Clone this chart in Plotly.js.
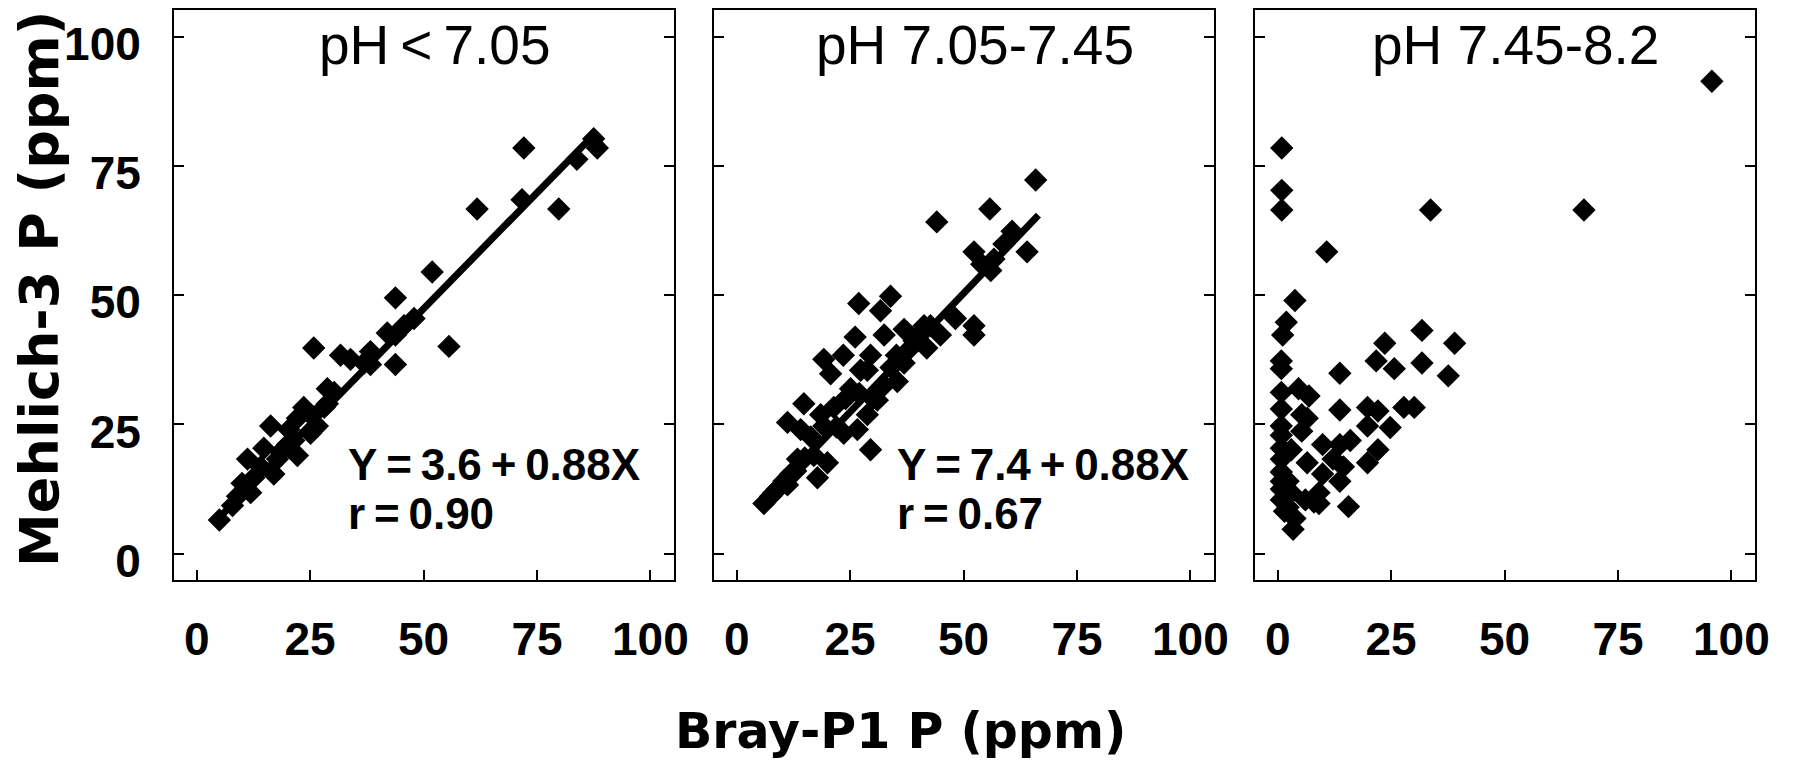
<!DOCTYPE html>
<html>
<head>
<meta charset="utf-8">
<script src="https://cdn.plot.ly/plotly-3.0.1.min.js"></script>
<style>html,body{margin:0;padding:0;background:#fff;}</style>
</head>
<body>
<div id="chart" style="width:1793px;height:768px;"></div>
<script>
// ---- data ----
const panelTitles = ["pH\u2009<\u20097.05", "pH 7.05-7.45", "pH 7.45-8.2"];
const xTickVals = [0, 25, 50, 75, 100];
const yTickVals = [0, 25, 50, 75, 100];
const xAxisTitle = "Bray-P1 P (ppm)";
const yAxisTitle = "Mehlich-3 P (ppm)";

const ph1X = [5,7.9,9,10,11.2,11.9,12.6,14.1,14.8,16.3,17,17.8,18.5,20,20.3,21.4,22.2,22.2,23.6,25.1,25.1,25.8,26.6,28.1,28.8,28.8,30.3,31.7,33.9,36.9,38.3,38.3,42,43.8,43.8,43.8,45.7,47.9,51.9,55.6,61.8,71.7,72.1,79.8,83.8,88.3,87.5];
const ph1Y = [6.5,9.3,11.1,13.6,18.3,11.8,14.7,16.8,20.4,24.7,15.4,18.3,19.7,21.1,24,21.9,19,26.2,28.3,26.9,23.3,39.8,24.7,28.3,31.9,29,31.2,38.4,37.6,36.9,39.1,36.6,42.7,49.5,36.6,42.3,44.1,45.5,54.5,40.1,66.7,68.5,78.5,66.7,76.3,78.5,80.3];

const ph2X = [6,7.5,8.2,9,10.4,11.2,11.9,13.4,11.2,14.1,14.8,16.3,17,17.8,18.5,19.2,20,19.2,20.7,21.4,23.6,23.5,25.1,26.1,26.6,26.9,27.3,28.8,28.8,29.5,29.5,31,31.7,32.5,32.5,33.9,35.2,35.4,36.9,36.9,38.3,39.1,41.3,41.9,42.7,44.1,44.9,48.2,52.3,52.3,52.3,54,55.8,56,56.7,58.9,60.7,64,65.9,13,15,22,24,27,30,34,40];
const ph2Y = [9.7,11.1,11.8,12.5,14,13.3,15.4,18.3,25.4,24,29,22.6,19,14.7,26.9,24.7,17.6,37.6,34.8,28.3,23.3,38.4,31.9,41.9,24,48.4,35.5,26.9,35.5,38.4,20.1,29.7,47,42.3,32.6,49.8,38.4,33.3,36.9,43.4,39.8,41.2,44.1,39.8,44.1,64.2,42.3,45.5,44.1,42.3,58.4,56,66.7,54.8,57,59.9,62.4,58.4,72.3,16,18.5,24.5,30,31,30,36,42];

const ph3X = [95.7,67.5,33.7,0.9,0.9,0.9,10.8,3.8,1.9,1.1,0.8,0.8,31.8,39,23.6,21.7,25.7,31.8,37.6,13.7,13.7,27.8,30.1,19.8,22.1,24.8,19.8,22.1,19.8,16,13.7,9.9,12.2,14.5,13.7,9.9,6.5,15.6,9.1,6.1,3.8,3.4,1.5,0.8,4.6,6.9,0.8,5.3,6.5,0.8,0.8,5.3,0.8,0.8,3,0.8,0.8,0.8,0.8,2.3,2.3,3,8,9.1];
const ph3Y = [91.4,66.5,66.5,78.5,70.3,66.5,58.4,49,44.8,42.3,37.3,35.8,43.2,40.7,40.7,37.3,35.8,36.9,34.4,34.9,27.8,28.3,28.3,28.3,27.6,24.4,24.7,20.1,17.6,21.9,21.1,21.1,18.3,16.8,14,15.4,17.6,9.1,9.7,10.4,6.8,4.7,8.2,31.2,31.9,30.5,28,26.9,26.2,24.7,22.9,23.7,20.4,18.3,20.1,15.8,14,12.5,10.4,9,14,11.8,10,11.8];

// fitted lines (end points)
const fit1X = [5, 88];
const fit1Y = [7, 81.5];
const fit2X = [6, 66.5];
const fit2Y = [10, 65.5];

const eqText = ["Y\u2009=\u20093.6\u2009+\u20090.88X", "Y\u2009=\u20097.4\u2009+\u20090.88X"];
const rText = ["r\u2009=\u20090.90", "r\u2009=\u20090.67"];
const eqPosX = [33, 35];

// ---- build figure ----
const mk = {symbol: 'diamond', size: 18, color: '#000', line: {width: 0}};
const traces = [
  {x: ph1X, y: ph1Y, xaxis: 'x', yaxis: 'y', mode: 'markers', type: 'scatter', marker: mk},
  {x: ph2X, y: ph2Y, xaxis: 'x2', yaxis: 'y2', mode: 'markers', type: 'scatter', marker: mk},
  {x: ph3X, y: ph3Y, xaxis: 'x3', yaxis: 'y3', mode: 'markers', type: 'scatter', marker: mk},
  {x: fit1X, y: fit1Y, xaxis: 'x', yaxis: 'y', mode: 'lines', type: 'scatter', line: {color: '#000', width: 7}},
  {x: fit2X, y: fit2Y, xaxis: 'x2', yaxis: 'y2', mode: 'lines', type: 'scatter', line: {color: '#000', width: 7}}
];

const tickFont = {family: 'Liberation Sans, Arial, sans-serif', size: 46, weight: 'bold', color: '#000'};
const xRange = [-5, 105.2];
const yRange = [-5.1, 105.2];
const domains = [[0, 0.31626], [0.34156, 0.65781], [0.68374, 1]];

function xax(i) {
  return {
    domain: domains[i], range: xRange, anchor: i === 0 ? 'y' : 'y' + (i + 1),
    tickvals: xTickVals, ticktext: xTickVals.map(String),
    ticks: 'inside', ticklen: 10, tickwidth: 2, tickcolor: '#000',
    showline: true, linewidth: 2, linecolor: '#000', mirror: true,
    showgrid: false, zeroline: false, tickfont: tickFont, ticklabelstandoff: 18
  };
}
function yax(i) {
  return {
    domain: [0, 1], range: yRange, anchor: i === 0 ? 'x' : 'x' + (i + 1),
    tickvals: yTickVals, ticktext: yTickVals.map(String),
    ticks: 'inside', ticklen: 10, tickwidth: 2, tickcolor: '#000',
    showline: true, linewidth: 2, linecolor: '#000', mirror: 'ticks',
    showgrid: false, zeroline: false, tickfont: tickFont,
    showticklabels: i === 0, ticklabelstandoff: 22, ticklabelshift: 7
  };
}

const annotations = [];
panelTitles.forEach((t, i) => {
  annotations.push({
    text: t, xref: i === 0 ? 'x' : 'x' + (i + 1), yref: i === 0 ? 'y' : 'y' + (i + 1),
    x: 52.5, y: 98.5, xanchor: 'center', yanchor: 'middle', showarrow: false,
    font: {family: 'Liberation Sans, Arial, sans-serif', size: 55, color: '#000'}
  });
});
eqText.forEach((t, i) => {
  const xr = i === 0 ? 'x' : 'x2', yr = i === 0 ? 'y' : 'y2';
  annotations.push({text: t, xref: xr, yref: yr, x: eqPosX[i], y: 17.2, xanchor: 'left', yanchor: 'middle',
    showarrow: false, font: {family: 'Liberation Sans, Arial, sans-serif', size: 44, weight: 'bold', color: '#000'}});
  annotations.push({text: rText[i], xref: xr, yref: yr, x: eqPosX[i], y: 7.8, xanchor: 'left', yanchor: 'middle',
    showarrow: false, font: {family: 'Liberation Sans, Arial, sans-serif', size: 44, weight: 'bold', color: '#000'}});
});
annotations.push({text: xAxisTitle, xref: 'paper', yref: 'paper', x: 0.4598, y: -0.265, xanchor: 'center', yanchor: 'middle',
  showarrow: false, font: {family: 'DejaVu Sans, sans-serif', size: 49, weight: 'bold', color: '#000'}});
annotations.push({text: yAxisTitle, xref: 'paper', yref: 'paper', x: -0.085, y: 0.51, xanchor: 'center', yanchor: 'middle',
  textangle: -90, showarrow: false, font: {family: 'DejaVu Sans, sans-serif', size: 54, weight: 'bold', color: '#000'}});

const layout = {
  width: 1793, height: 768,
  margin: {l: 174, r: 38, t: 10, b: 188, pad: 0},
  paper_bgcolor: '#fff', plot_bgcolor: '#fff',
  showlegend: false,
  xaxis: xax(0), xaxis2: xax(1), xaxis3: xax(2),
  yaxis: yax(0), yaxis2: yax(1), yaxis3: yax(2),
  annotations: annotations
};

Plotly.newPlot('chart', traces, layout, {staticPlot: true, displayModeBar: false});
</script>
</body>
</html>
